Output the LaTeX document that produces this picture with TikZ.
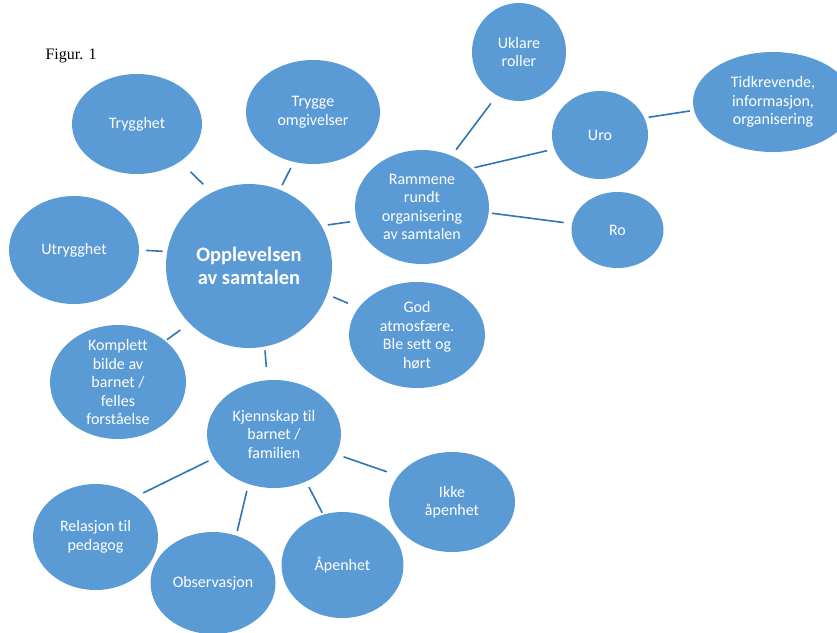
\documentclass[tikz,border=0pt]{standalone}
\usepackage{fontspec}
\setmainfont{Liberation Serif}
\newfontfamily\bubblefont{Carlito}[Ligatures=NoCommon]
\usetikzlibrary{shapes.geometric}

\definecolor{bubbleblue}{HTML}{5B9BD5}
\definecolor{linkblue}{HTML}{2E75B6}

\tikzset{
  bubble/.style={ellipse, fill=bubbleblue, text=white, inner sep=0pt, align=center,
    font=\bubblefont\fontsize{16}{18.5}\selectfont},
  hubbubble/.style={bubble, font=\bubblefont\bfseries\fontsize{20.5}{23.3}\selectfont},
  link/.style={draw=linkblue, line width=1.6pt},
}

\begin{document}
\begin{tikzpicture}[x=1pt,y=-1pt]
\clip (0,0) rectangle (837,632);

\node[anchor=base west, font=\fontsize{16}{19}\selectfont] (fig) at (42,59) {Figur. 1};

% centre and first ring
\node[hubbubble, minimum width=166pt, minimum height=164pt] (hub) at (249,266) {Opplevelsen\\av samtalen};
\node[bubble, minimum width=130pt, minimum height=100pt] (tryg) at (137,124) {Trygghet};
\node[bubble, minimum width=134pt, minimum height=104pt] (omg) at (313,112) {Trygge\\omgivelser};
\node[bubble, minimum width=130pt, minimum height=108pt] (utr) at (74,250) {Utrygghet};
\node[bubble, minimum width=134pt, minimum height=114pt] (ramme) at (422,207) {Rammene\\rundt\\organisering\\av samtalen};
\node[bubble, minimum width=136pt, minimum height=106pt] (god) at (417,335) {God\\atmosfære.\\Ble sett og\\hørt};
\node[bubble, minimum width=136pt, minimum height=114pt, inner ysep=-8pt] (kompl) at (118,382) {Komplett\\bilde av\\barnet /\\felles\\forståelse};
\node[bubble, minimum width=134pt, minimum height=108pt] (kjenn) at (274,434) {Kjennskap til\\barnet /\\familien};

% around the frame
\node[bubble, minimum width=94pt, minimum height=98pt] (uklare) at (519,52) {Uklare\\roller};
\node[bubble, minimum width=96pt, minimum height=88pt] (uro) at (600,135) {Uro};
\node[bubble, minimum width=160pt, minimum height=100pt] (tidk) at (773,102) {Tidkrevende,\\informasjon,\\organisering};
\node[bubble, minimum width=92pt, minimum height=76pt] (ro) at (617.5,230) {Ro};

% around knowing the child
\node[bubble, minimum width=126pt, minimum height=100pt] (ikke) at (452,502) {Ikke\\åpenhet};
\node[bubble, minimum width=125pt, minimum height=106pt] (rel) at (95.5,537) {Relasjon til\\pedagog};
\node[bubble, minimum width=125pt, minimum height=102pt] (obs) at (213,583) {Observasjon};
\node[bubble, minimum width=122pt, minimum height=106pt] (apen) at (342.5,565) {Åpenhet};

\foreach \a/\aa/\b/\bb/\sa/\sb in {
  tryg/-41/hub/117/14.5/11.7,
  omg/-111/hub/68/6.7/5,
  utr/0/hub/170/7/4.5,
  ramme/192/hub/29/7/6.3,
  god/155/hub/-20/11.3/6.6,
  kompl/41/hub/-136/2/11.2,
  kjenn/97/hub/-79/13.3/3.7,
  ramme/60/uklare/-117/7.4/10,
  ramme/38/uro/197/3/7.4,
  uro/21/tidk/186/4.2/4.1,
  ramme/-5/ro/172/3.2/8.3,
  kjenn/202/rel/45/6/8,
  kjenn/-117/obs/64/7/4.4,
  kjenn/-56/apen/111/6.2/2,
  kjenn/-18/ikke/154/7.6/12
} {
  \draw[link, shorten <=\sa pt, shorten >=\sb pt] (\a.\aa) -- (\b.\bb);
}
\end{tikzpicture}
\end{document}
